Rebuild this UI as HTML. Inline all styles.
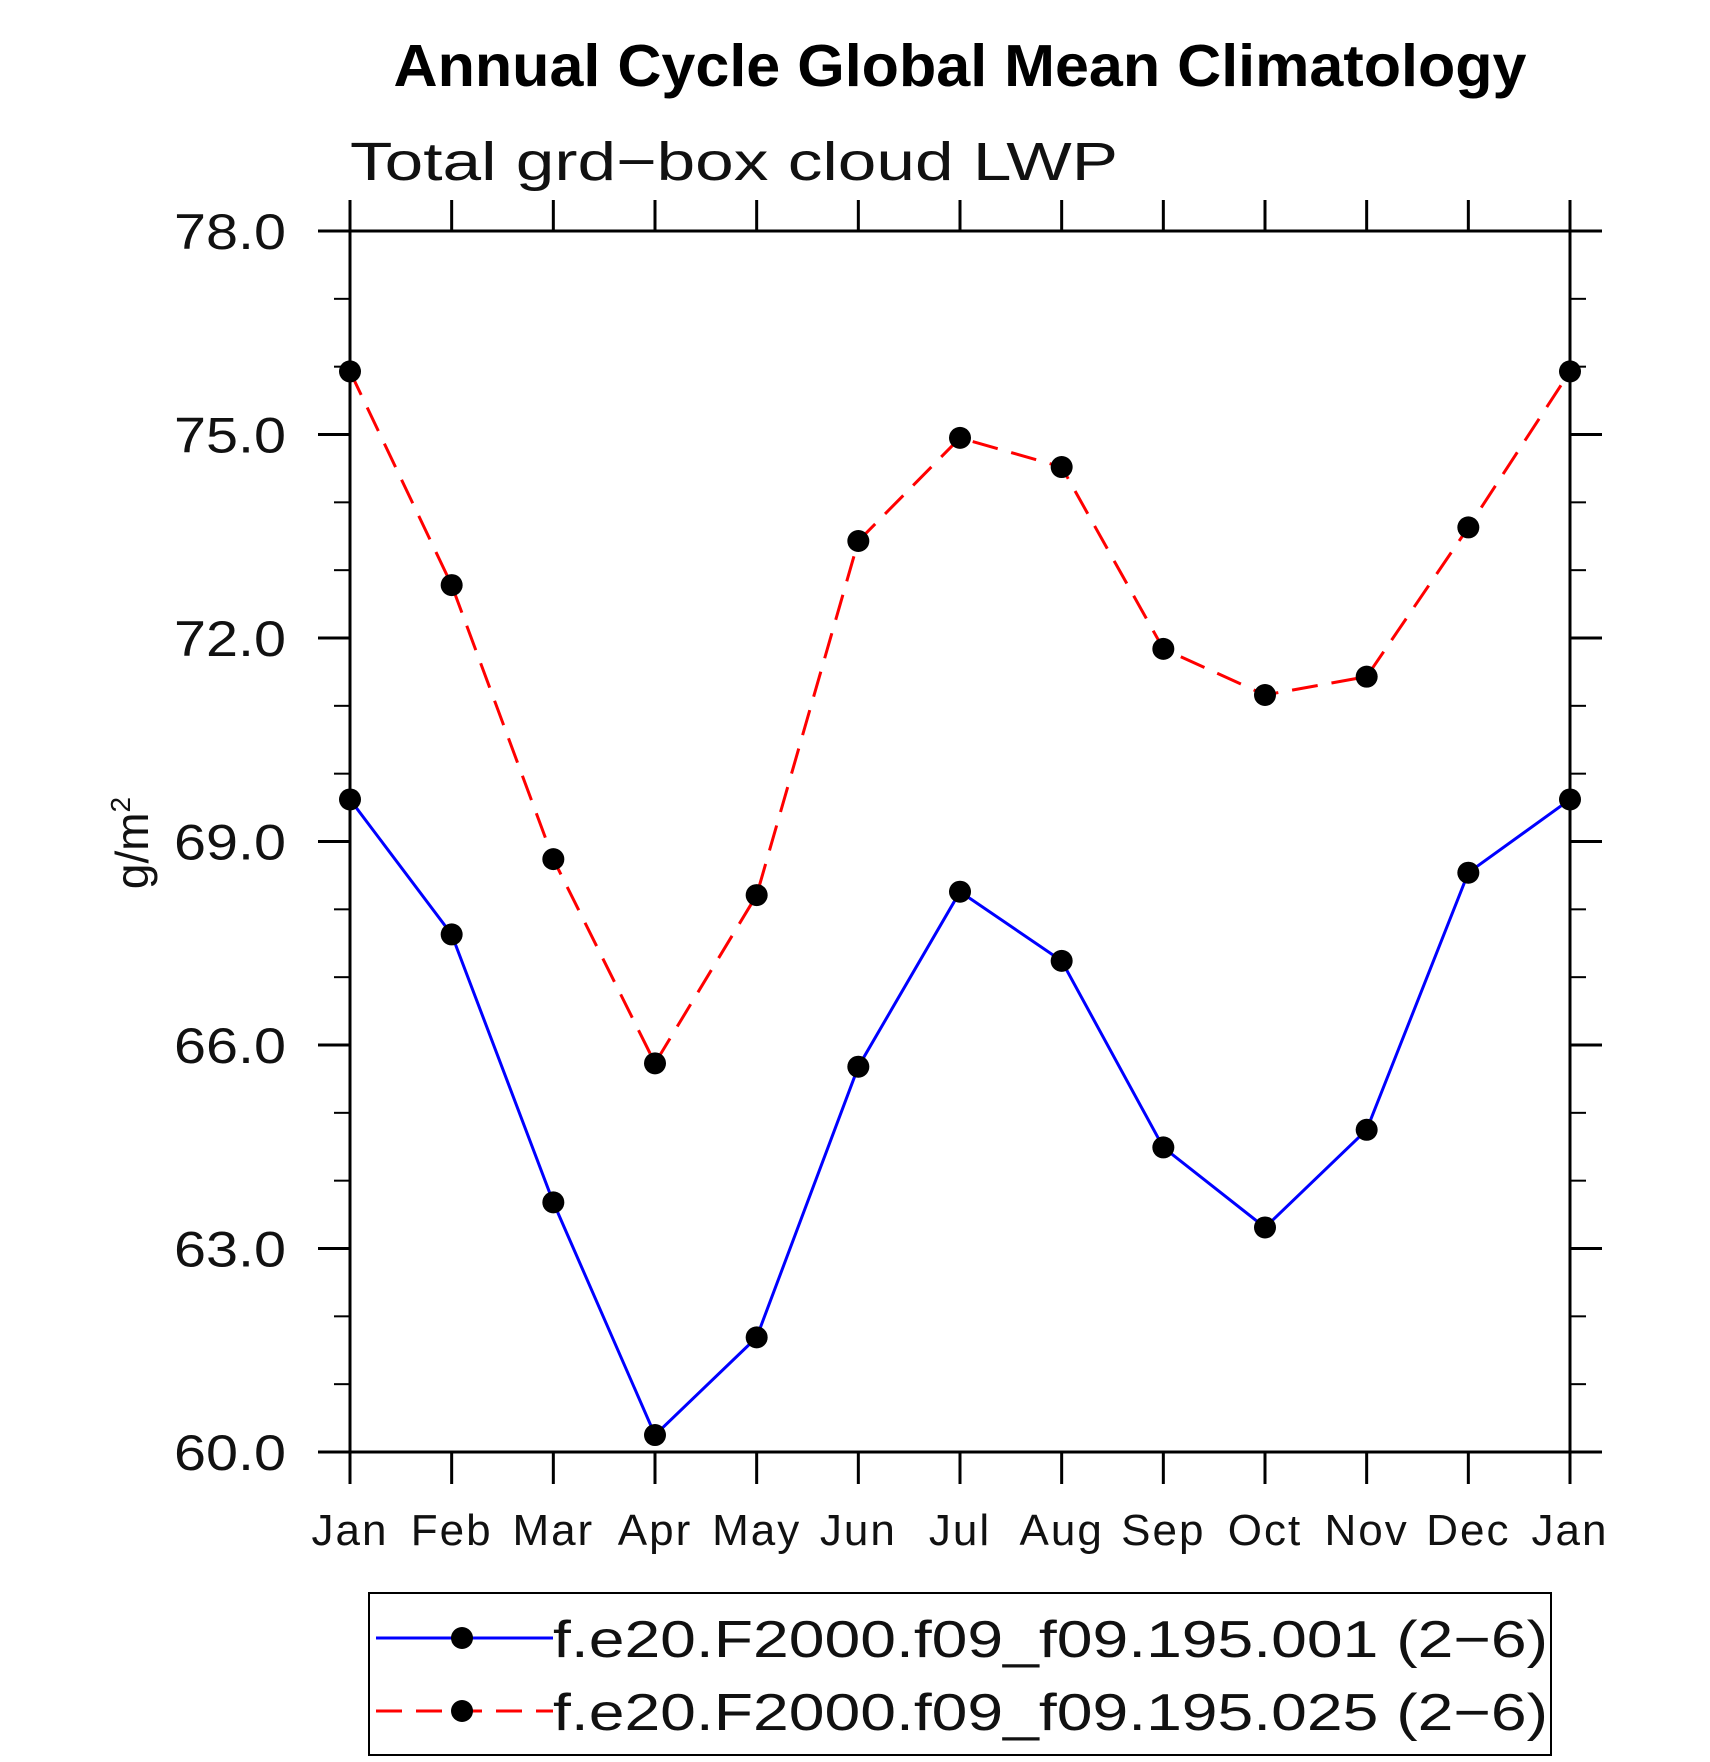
<!DOCTYPE html>
<html><head><meta charset="utf-8"><style>
html,body{margin:0;padding:0;background:#fff;}
svg{display:block;}
text{font-family:"Liberation Sans",sans-serif;}
</style></head><body>
<svg id="chart" width="1710" height="1762" viewBox="0 0 1710 1762" xmlns="http://www.w3.org/2000/svg">
<text x="960" y="86" text-anchor="middle" font-size="59" font-weight="bold" textLength="1133" lengthAdjust="spacingAndGlyphs">Annual Cycle Global Mean Climatology</text>
<text x="350" y="180" font-size="54" fill="#111" textLength="768" lengthAdjust="spacingAndGlyphs">Total grd−box cloud LWP</text>
<text transform="translate(148,843) rotate(-90)" text-anchor="middle" font-size="46" fill="#111">g/m<tspan font-size="28" dy="-18">2</tspan></text>
<g id="axes"></g>
<g id="series"></g>
<g id="legend">
<rect x="369" y="1593" width="1182" height="162" fill="none" stroke="#000" stroke-width="2"/>
</g>
</svg>
<script>
const months = ["Jan","Feb","Mar","Apr","May","Jun","Jul","Aug","Sep","Oct","Nov","Dec","Jan"];
const series001 = [69.62,67.63,63.68,60.25,61.69,65.68,68.26,67.24,64.49,63.31,64.75,68.54,69.62];
const series025 = [75.93,72.78,68.74,65.73,68.21,73.43,74.95,74.52,71.84,71.16,71.43,73.63,75.93];
const yTicks = [60,63,66,69,72,75,78];
const yTickLabels = ["60.0","63.0","66.0","69.0","72.0","75.0","78.0"];
const legendLabels = ["f.e20.F2000.f09_f09.195.001 (2−6)","f.e20.F2000.f09_f09.195.025 (2−6)"];

const NS="http://www.w3.org/2000/svg";
const L=350,R=1570,T=231,B=1452,yMin=60,yMax=78;
const xs=i=>L+(R-L)*i/(months.length-1);
const ys=v=>B-(B-T)*(v-yMin)/(yMax-yMin);
function mk(tag,attrs,parent){const e=document.createElementNS(NS,tag);for(const k in attrs)e.setAttribute(k,attrs[k]);parent.appendChild(e);return e;}
const axes=document.getElementById('axes');
let fr=mk('rect',{x:L,y:T,width:R-L,height:B-T,fill:'none',stroke:'#000','stroke-width':3},axes);


months.forEach((m,i)=>{
  const x=xs(i);
  let t1=mk('line',{x1:x,x2:x,y1:B,y2:B+32,stroke:'#000','stroke-width':3},axes);
  
  
  let t2=mk('line',{x1:x,x2:x,y1:T,y2:T-31,stroke:'#000','stroke-width':3},axes);
  
  
  let lb=mk('text',{x:x,y:1545,'text-anchor':'middle','font-size':44,fill:'#111','letter-spacing':2},axes);
  lb.textContent=m;
  
  
});
for(let v=yMin;v<=yMax+1e-9;v+=1){
  const y=ys(v);const major=Math.abs((v-yMin)%3)<1e-6;const len=major?32:16;
  let a=mk('line',{x1:L-len,x2:L,y1:y,y2:y,stroke:'#000','stroke-width':major?3:2},axes);
  
  
  let b=mk('line',{x1:R,x2:R+len,y1:y,y2:y,stroke:'#000','stroke-width':major?3:2},axes);
  
  
}
yTicks.forEach((v,i)=>{
  let lb=mk('text',{x:174,y:ys(v)+18,'font-size':50,fill:'#111',textLength:112,lengthAdjust:'spacingAndGlyphs'},axes);
  lb.textContent=yTickLabels[i];
  
  
});
const sg=document.getElementById('series');
function drawSeries(vals,color,dash,name){
  const pts=vals.map((v,i)=>xs(i)+','+ys(v)).join(' ');
  let pl=mk('polyline',{points:pts,fill:'none',stroke:color,'stroke-width':3},sg);
  if(dash)pl.setAttribute('stroke-dasharray',dash);
  
  
  vals.forEach((v,i)=>{
    let c=mk('circle',{cx:xs(i),cy:ys(v),r:11,fill:'#000'},sg);
    
    
  });
}
drawSeries(series001,'#0000ff',null,'series-001');
drawSeries(series025,'#ff0000','26 14','series-025');
const lg=document.getElementById('legend');
[['#0000ff',null,1638],['#ff0000','26 14',1711]].forEach((s,i)=>{
  let ln=mk('line',{x1:376,x2:553,y1:s[2],y2:s[2],stroke:s[0],'stroke-width':3},lg);
  if(s[1])ln.setAttribute('stroke-dasharray',s[1]);
  
  
  let c=mk('circle',{cx:462,cy:s[2],r:11,fill:'#000'},lg);
  
  
  let t=mk('text',{x:553,y:s[2]+19,'font-size':52,fill:'#111',textLength:995,lengthAdjust:'spacingAndGlyphs'},lg);
  t.textContent=legendLabels[i];
  
  
});
</script>
</body></html>
